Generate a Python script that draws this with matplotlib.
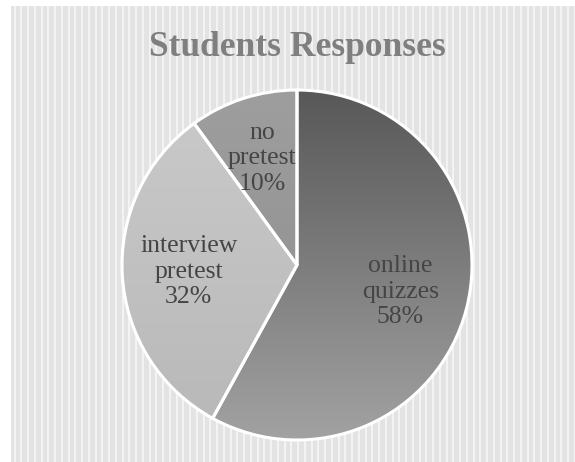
import numpy as np
import matplotlib.pyplot as plt
from matplotlib.colors import LinearSegmentedColormap

# datos del grafico
labels = ['online quizzes', 'interview pretest', 'no pretest']
values = [58, 32, 10]

# degradados (arriba, abajo) para cada porcion
grad_colors = [('#585858', '#a2a2a2'),
               ('#cacaca', '#b8b8b8'),
               ('#9e9e9e', '#8c8c8c')]

W, H = 575, 462
fig = plt.figure(figsize=(W / 100, H / 100), dpi=100)
fig.patch.set_facecolor('white')

# fondo rayado
bg = fig.add_axes([11 / W, 0, 1 - 11 / W, 1 - 6 / H])
bg.set_xlim(0, W - 11)
bg.set_ylim(0, H - 6)
bg.set_facecolor('#e3e3e3')
for x in np.arange(2.5, W - 11, 6.75):
    bg.axvspan(x, x + 2.2, color='#f3f3f3', lw=0)
bg.set_xticks([])
bg.set_yticks([])
for s in bg.spines.values():
    s.set_visible(False)

fig.text(297 / W, 1 - 47 / H, 'Students Responses', ha='center', va='center',
         fontsize=25.5, fontweight='bold', family='Liberation Serif', color='#7f7f7f')

# pastel
cx, cy, r = 297, 265, 175
ax = fig.add_axes([(cx - r) / W, (H - cy - r) / H, 2 * r / W, 2 * r / H])
wedges, _ = ax.pie(values, startangle=90, counterclock=False, radius=1,
                   wedgeprops=dict(edgecolor='white', linewidth=2.2))
ax.axis('off')

grad = np.linspace(1, 0, 256).reshape(-1, 1)
for w, (c_top, c_bot) in zip(wedges, grad_colors):
    cmap = LinearSegmentedColormap.from_list('g', [c_bot, c_top])
    im = ax.imshow(grad, cmap=cmap, extent=[-1, 1, -1, 1], origin='upper',
                   aspect='auto', zorder=w.get_zorder() - 0.1, vmin=0, vmax=1)
    im.set_clip_path(w)
    w.set_facecolor('none')

dist = [0.61, 0.62, 0.64]
for w, lab, v, d in zip(wedges, labels, values, dist):
    ang = np.deg2rad((w.theta1 + w.theta2) / 2)
    ax.text(d * np.cos(ang), d * np.sin(ang), lab.replace(' ', '\n') + '\n%d%%' % v,
            ha='center', va='center', fontsize=18.5, family='Liberation Serif',
            color='#454545', linespacing=1.2)

ax.set_xlim(-1.0, 1.0)
ax.set_ylim(-1.0, 1.0)
fig.savefig('out.png', dpi=100, facecolor='white')
